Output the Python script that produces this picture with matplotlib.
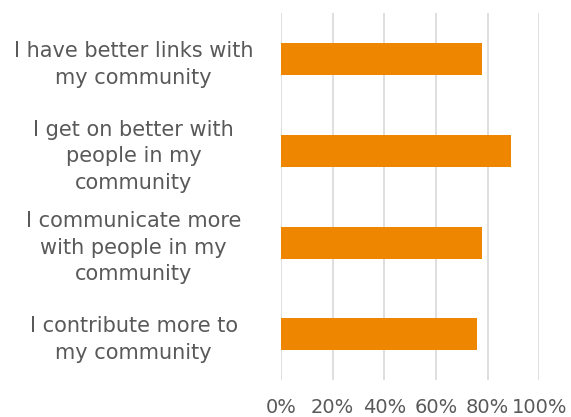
import matplotlib.pyplot as plt
from matplotlib.ticker import PercentFormatter

categories = [
    "I have better links with\nmy community",
    "I get on better with\npeople in my\ncommunity",
    "I communicate more\nwith people in my\ncommunity",
    "I contribute more to\nmy community",
]
values = [78, 89, 78, 76]
ticks = [0, 20, 40, 60, 80, 100]

text_color = "#595959"
bar_color = "#EE8600"

fig = plt.figure(figsize=(5.71, 4.17), dpi=100)
ax = fig.add_axes([0.4921, 0.0887, 0.4524, 0.879])

pos = list(range(len(categories)))
ax.barh(pos, values, height=0.35, color=bar_color, zorder=3)
ax.set_ylim(len(categories) - 0.5, -0.5)
ax.set_xlim(0, 100)

ax.set_xticks(ticks)
ax.xaxis.set_major_formatter(PercentFormatter(decimals=0))
ax.set_yticks(pos)
ax.set_yticklabels(categories, ha="center", linespacing=1.4)
ax.tick_params(axis="y", length=0, pad=106, labelsize=15, labelcolor=text_color)
ax.tick_params(axis="x", length=0, pad=13, labelsize=14, labelcolor=text_color)

ax.grid(axis="x", color="#D9D9D9", linewidth=1.2, zorder=0)
for s in ax.spines.values():
    s.set_visible(False)

fig.savefig("out.png", dpi=100)
